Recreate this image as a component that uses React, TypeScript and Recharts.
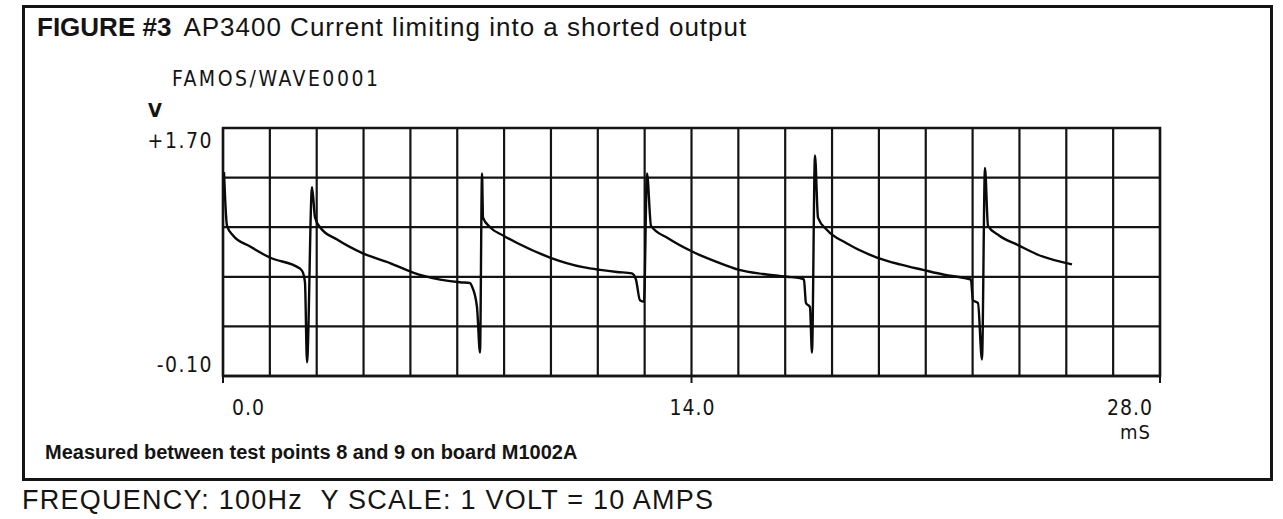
import React from "react";
import {
  LineChart,
  Line,
  XAxis,
  YAxis,
  CartesianGrid,
  ReferenceArea,
} from "recharts";

// ---- data (time in ms, voltage in V) ----
const timeMs = [
  0.03, 0.12, 0.3, 0.81, 1.4, 2.3, 2.39, 2.45, 2.51, 2.66, 2.75, 2.9,
  3.41, 4.18, 4.99, 5.68, 6.49, 7.08, 7.38, 7.44, 7.59, 7.68, 7.74, 7.77, 7.98,
  8.37, 8.79, 9.77, 10.76, 11.27, 11.77, 12.22, 12.34, 12.46, 12.58, 12.67, 12.79,
  13.3, 14.05, 14.73, 15.42, 16.14, 16.85, 17.24, 17.36, 17.42, 17.54, 17.6, 17.69,
  17.78, 18.05, 18.62, 19.54, 20.23, 20.92, 21.55, 22.17, 22.35, 22.41, 22.56,
  22.68, 22.77, 22.86, 23.19, 23.76, 24.35, 25.37,
];
const volts = [
  1.38, 0.99, 0.92, 0.84, 0.76, 0.68, 0.65, 0.58, 0.0, 1.27, 1.05, 0.98,
  0.89, 0.79, 0.72, 0.65, 0.6, 0.58, 0.575, 0.55, 0.4, 0.07, 1.37, 1.05, 0.98,
  0.92, 0.865, 0.76, 0.69, 0.67, 0.655, 0.645, 0.6, 0.45, 0.44, 1.37, 0.99,
  0.9, 0.8, 0.73, 0.67, 0.64, 0.62, 0.61, 0.6, 0.43, 0.4, 0.07, 1.5,
  1.05, 0.96, 0.865, 0.76, 0.71, 0.67, 0.635, 0.61, 0.6, 0.45, 0.43,
  0.02, 1.41, 0.99, 0.92, 0.85, 0.78, 0.71,
];

const xGridTicks = [
  0, 1.4, 2.8, 4.2, 5.6, 7, 8.4, 9.8, 11.2, 12.6, 14, 15.4, 16.8, 18.2, 19.6, 21,
  22.4, 23.8, 25.2, 26.6, 28,
];
const xLabelTicks = [0, 14, 28];
const xLabels = ["0.0", "14.0", "28.0"];

const yGridTicks = [-0.1, 0.26, 0.62, 0.98, 1.34, 1.7];
const yLabelTicks = [1.7, -0.1];
const yLabels = ["+1.70", "-0.10"];

const data = timeMs.map((t, i) => ({ t, v: volts[i] }));

const INK = "#141414";
const PLOT_FONT = "'DejaVu Sans Condensed', 'DejaVu Sans', sans-serif";
const TEXT_FONT = "'Liberation Sans', Arial, sans-serif";

const XTick = (props: any) => {
  const { x, y, payload } = props;
  const idx = xLabelTicks.findIndex((v) => Math.abs(v - payload.value) < 1e-6);
  if (idx < 0) return <g />;
  const anchor = idx === 0 ? "start" : idx === 1 ? "middle" : "end";
  const dx = idx === 0 ? 9 : idx === 1 ? 1 : -7;
  return (
    <g>
      <line x1={x} y1={y} x2={x} y2={y + 7} stroke={INK} strokeWidth={2} />
      <text
        x={x + dx}
        y={y + 39}
        textAnchor={anchor}
        fill={INK}
        fontSize={21}
        fontFamily={PLOT_FONT}
        letterSpacing={1}
      >
        {xLabels[idx]}
      </text>
      {idx === 2 && (
        <text
          x={x - 9}
          y={y + 63}
          textAnchor="end"
          fill={INK}
          fontSize={20}
          fontFamily={PLOT_FONT}
          letterSpacing={1}
        >
          mS
        </text>
      )}
    </g>
  );
};

const YTick = (props: any) => {
  const { x, y, payload } = props;
  const idx = yLabelTicks.findIndex((v) => Math.abs(v - payload.value) < 1e-6);
  if (idx < 0) return <g />;
  const dy = idx === 0 ? 20 : -4;
  return (
    <text
      x={x - 10}
      y={y + dy}
      textAnchor="end"
      fill={INK}
      fontSize={21}
      fontFamily={PLOT_FONT}
      letterSpacing={1.5}
    >
      {yLabels[idx]}
    </text>
  );
};

export default function App() {
  return (
    <div
      style={{
        position: "absolute",
        left: 0,
        top: 0,
        width: 1283,
        height: 519,
        background: "#ffffff",
        overflow: "hidden",
      }}
    >
      {/* outer frame */}
      <div
        style={{
          position: "absolute",
          left: 22,
          top: 5,
          width: 1251,
          height: 476,
          border: `3px solid ${INK}`,
          boxSizing: "border-box",
        }}
      />
      <div style={{ position: "absolute", left: 0, top: 0 }}>
        <LineChart
          width={1283}
          height={519}
          data={data}
          margin={{ top: 128, right: 123, bottom: 103, left: 143 }}
        >
          <CartesianGrid
            stroke={INK}
            strokeWidth={2.2}
            horizontal={true}
            vertical={true}
          />
          <XAxis
            dataKey="t"
            type="number"
            domain={[0, 28]}
            ticks={xGridTicks}
            interval={0}
            height={40}
            tickSize={0}
            tickMargin={0}
            tickLine={false}
            axisLine={{ stroke: INK, strokeWidth: 2.5 }}
            tick={<XTick />}
            allowDataOverflow
          />
          <YAxis
            type="number"
            domain={[-0.1, 1.7]}
            ticks={yGridTicks}
            interval={0}
            width={80}
            tickSize={0}
            tickMargin={0}
            tickLine={false}
            axisLine={false}
            tick={<YTick />}
            allowDataOverflow
          />
          <ReferenceArea
            x1={0}
            x2={28}
            y1={-0.1}
            y2={1.7}
            fill="none"
            fillOpacity={0}
            stroke={INK}
            strokeWidth={2.5}
            ifOverflow="visible"
          />
          <Line
            type="monotoneX"
            dataKey="v"
            stroke="#0a0a0a"
            strokeWidth={2.4}
            dot={false}
            isAnimationActive={false}
          />
        </LineChart>
      </div>
      {/* texts */}
      <div
        style={{
          position: "absolute",
          left: 37,
          top: 14,
          fontFamily: TEXT_FONT,
          fontSize: 26,
          lineHeight: "26px",
          color: INK,
          whiteSpace: "nowrap",
        }}
      >
        <span style={{ fontWeight: 700 }}>FIGURE #3</span>
        <span style={{ marginLeft: 12, letterSpacing: 1 }}>
          AP3400 Current limiting into a shorted output
        </span>
      </div>
      <div
        style={{
          position: "absolute",
          left: 172,
          top: 69,
          fontFamily: PLOT_FONT,
          fontSize: 21,
          lineHeight: "21px",
          letterSpacing: 2.5,
          color: INK,
          whiteSpace: "nowrap",
        }}
      >
        FAMOS/WAVE0001
      </div>
      <div
        style={{
          position: "absolute",
          left: 148,
          top: 100,
          fontFamily: PLOT_FONT,
          fontSize: 20,
          lineHeight: "20px",
          fontWeight: 700,
          color: INK,
        }}
      >
        V
      </div>
      <div
        style={{
          position: "absolute",
          left: 45,
          top: 442,
          fontFamily: TEXT_FONT,
          fontSize: 20,
          lineHeight: "20px",
          fontWeight: 700,
          letterSpacing: 0,
          color: INK,
          whiteSpace: "nowrap",
        }}
      >
        Measured between test points 8 and 9 on board M1002A
      </div>
      <div
        style={{
          position: "absolute",
          left: 22,
          top: 487,
          fontFamily: TEXT_FONT,
          fontSize: 27,
          lineHeight: "27px",
          letterSpacing: 1.25,
          color: INK,
          whiteSpace: "nowrap",
        }}
      >
        FREQUENCY: 100Hz&nbsp;&nbsp;Y SCALE: 1 VOLT = 10 AMPS
      </div>
    </div>
  );
}
